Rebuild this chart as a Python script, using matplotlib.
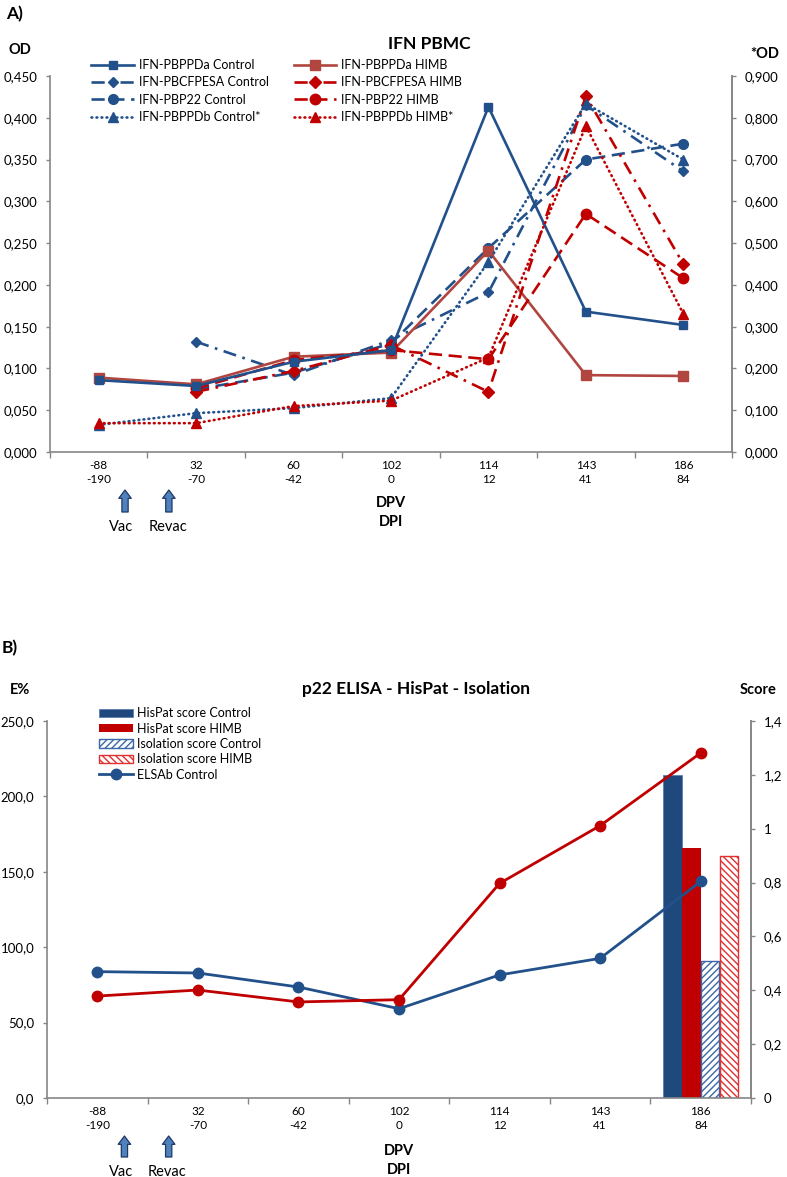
import matplotlib.pyplot as plt
import numpy as np
from matplotlib.ticker import FuncFormatter, FixedLocator

plt.rcParams['font.family'] = ['Lato', 'DejaVu Sans']
plt.rcParams['hatch.linewidth'] = 1.0

W, H = 787, 1177
nan = np.nan

# x categories: days post vaccination / days post infection
dpv = ['-88', '32', '60', '102', '114', '143', '186']
dpi_days = ['-190', '-70', '-42', '0', '12', '41', '84']

# A) IFN PBMC, OD (left axis)
ppda_ctrl = [0.086, 0.079, 0.108, 0.122, 0.413, 0.168, 0.152]
ppda_himb = [0.089, 0.081, 0.114, 0.119, 0.241, 0.092, 0.091]
cfpesa_ctrl = [nan, 0.132, 0.092, 0.134, 0.191, 0.415, 0.336]
cfpesa_himb = [nan, 0.072, 0.097, 0.128, 0.072, 0.426, 0.225]
p22_ctrl = [nan, 0.075, 0.095, 0.130, 0.244, 0.350, 0.369]
p22_himb = [nan, 0.076, 0.110, 0.122, 0.111, 0.285, 0.208]
# *OD (right axis)
ppdb_ctrl = [0.065, 0.093, 0.105, 0.129, 0.455, 0.834, 0.700]
ppdb_himb = [0.069, 0.069, 0.110, 0.123, 0.226, 0.780, 0.331]

# B) p22 ELISA (E%, left axis)
elisa_ctrl = [83.8, 82.9, 73.6, 59.2, 81.6, 92.6, 143.6]
elisa_himb = [67.6, 71.6, 63.7, 65.2, 142.3, 180.6, 228.8]
# scores (right axis), only at the last sampling
hispat_ctrl = [nan, nan, nan, nan, nan, nan, 1.20]
hispat_himb = [nan, nan, nan, nan, nan, nan, 0.93]
iso_ctrl = [nan, nan, nan, nan, nan, nan, 0.51]
iso_himb = [nan, nan, nan, nan, nan, nan, 0.90]

BLUE = '#22508a'
RED = '#c00000'
BROWN = '#b0463f'
GREY = '#868686'


def px_rect(l, t, r, b):
    return [l / W, 1 - b / H, (r - l) / W, (b - t) / H]


def ftext(x, y, s, **kw):
    fig.text(x / W, 1 - y / H, s, va='center', ha='center', **kw)


def comma(fmt):
    return FuncFormatter(lambda v, p: fmt(v).replace('.', ','))


def style_axes(ax, ax2):
    x = np.arange(len(dpv))
    ax.set_xlim(-0.5, len(dpv) - 0.5)
    ax.set_xticks(x)
    ax.set_xticklabels([a + '\n' + b for a, b in zip(dpv, dpi_days)], fontsize=8.5, linespacing=1.3)
    ax.xaxis.set_minor_locator(FixedLocator(np.arange(-0.5, len(dpv), 1)))
    ax.tick_params(axis='x', which='major', length=0, pad=6)
    ax.tick_params(axis='x', which='minor', length=4, width=1, color=GREY, direction='out')
    for a in (ax, ax2):
        a.spines['top'].set_visible(False)
        for s in ('left', 'right', 'bottom'):
            a.spines[s].set_color(GREY)
            a.spines[s].set_linewidth(1.2)
        a.tick_params(axis='y', length=3, width=1, color=GREY, direction='out', pad=6, labelsize=9.5)
    ax2.spines['left'].set_visible(False)
    ax2.spines['bottom'].set_visible(False)


def arrow(ax, x, top, bottom, ax_h):
    tr = ax.get_xaxis_transform()
    ax.annotate('', xy=(x, -top / ax_h), xytext=(x, -bottom / ax_h), xycoords=tr, textcoords=tr,
                arrowprops=dict(arrowstyle='simple,head_length=0.6,head_width=0.9,tail_width=0.45',
                                mutation_scale=10, fc='#4f81bd', ec='#1f3864', lw=0.9,
                                shrinkA=0, shrinkB=0),
                annotation_clip=False)


def below(ax, x, off, s, ax_h, **kw):
    ax.text(x, -off / ax_h, s, transform=ax.get_xaxis_transform(), ha='center', va='center', **kw)


fig = plt.figure(figsize=(W / 100, H / 100), dpi=100)

# ---------------- A) IFN PBMC ----------------
axA = fig.add_axes(px_rect(50, 76, 732, 452))
axA2 = axA.twinx()
x = np.arange(len(dpv))
lw = 1.9

axA.plot(x, ppda_ctrl, color=BLUE, lw=lw, marker='s', ms=5.5, label='IFN-PBPPDa Control', zorder=4)
axA.plot(x, cfpesa_ctrl, color=BLUE, lw=lw, marker='D', ms=5.5, dashes=(5, 2.5, 1, 2.5),
         label='IFN-PBCFPESA Control', zorder=3)
axA.plot(x, p22_ctrl, color=BLUE, lw=lw, marker='o', ms=7, dashes=(5, 2.5), label='IFN-PBP22 Control', zorder=3)
lA4, = axA2.plot(x, ppdb_ctrl, color=BLUE, lw=lw, marker='^', ms=7, dashes=(0.3, 1.6),
                 dash_capstyle='round', label='IFN-PBPPDb Control*', zorder=3)
axA.plot(x, ppda_himb, color=BROWN, lw=lw, marker='s', ms=6.5, label='IFN-PBPPDa HIMB', zorder=3)
axA.plot(x, cfpesa_himb, color=RED, lw=lw, marker='D', ms=6, dashes=(5, 2.5, 1, 2.5),
         label='IFN-PBCFPESA HIMB', zorder=3)
axA.plot(x, p22_himb, color=RED, lw=lw, marker='o', ms=7.5, dashes=(5, 2.5), label='IFN-PBP22 HIMB', zorder=3)
lA8, = axA2.plot(x, ppdb_himb, color=RED, lw=lw, marker='^', ms=7.5, dashes=(0.3, 1.6),
                 dash_capstyle='round', label='IFN-PBPPDb HIMB*', zorder=3)

axA.set_ylim(0, 0.45)
axA.set_yticks(np.arange(0, 0.451, 0.05))
axA.yaxis.set_major_formatter(comma(lambda v: f'{v:.3f}'))
axA2.set_ylim(0, 0.9)
axA2.set_yticks(np.arange(0, 0.901, 0.1))
axA2.yaxis.set_major_formatter(comma(lambda v: f'{v:.3f}'))
style_axes(axA, axA2)

h, l = axA.get_legend_handles_labels()
hA = [h[0], h[1], h[2], lA4, h[3], h[4], h[5], lA8]
lA = [l[0], l[1], l[2], lA4.get_label(), l[3], l[4], l[5], lA8.get_label()]
fig.legend(hA, lA, ncol=2, loc='upper left', bbox_to_anchor=(85 / W, 1 - 53 / H), frameon=False,
           fontsize=9, borderpad=0, handlelength=3.4, handletextpad=0.4, columnspacing=2.0,
           labelspacing=0.42)

axH = 376
for xa in (0.27, 0.72):
    arrow(axA, xa, 38, 60, axH)
below(axA, 0.23, 75, 'Vac', axH, fontsize=10.5)
below(axA, 0.71, 75, 'Revac', axH, fontsize=10.5)
below(axA, 3, 51, 'DPV', axH, fontsize=10.5, fontweight='bold')
below(axA, 3, 70, 'DPI', axH, fontsize=10.5, fontweight='bold')

ftext(15, 14, 'A)', fontsize=12.5, fontweight='bold')
ftext(20, 50, 'OD', fontsize=10.5, fontweight='bold')
ftext(765, 54, '*OD', fontsize=10.5, fontweight='bold')
ftext(429, 44, 'IFN PBMC', fontsize=12.5, fontweight='bold')

# ---------------- B) p22 ELISA - HisPat - Isolation ----------------
axB = fig.add_axes(px_rect(47, 721, 751, 1098))
axB2 = axB.twinx()
bw = 0.185
axB2.bar(x - 0.28, hispat_ctrl, bw, color='#1f497d', edgecolor='#5a7fb0', lw=0.6, label='HisPat score Control')
axB2.bar(x - 0.093, hispat_himb, bw, color=RED, lw=0, label='HisPat score HIMB')
axB2.bar(x + 0.093, iso_ctrl, bw, color='white', edgecolor='#3a67a8', hatch='/////', lw=1,
         label='Isolation score Control')
axB2.bar(x + 0.28, iso_himb, bw, color='white', edgecolor='#e03030', hatch='\\\\\\\\\\', lw=1,
         label='Isolation score HIMB')
axB2.set_zorder(1)
axB.set_zorder(2)
axB.patch.set_visible(False)
lB1, = axB.plot(x, elisa_ctrl, color=BLUE, lw=2, marker='o', ms=7.5, label='ELSAb Control')
axB.plot(x, elisa_himb, color=RED, lw=2, marker='o', ms=7.5)

axB.set_ylim(0, 250)
axB.set_yticks(np.arange(0, 251, 50))
axB.yaxis.set_major_formatter(comma(lambda v: f'{v:.1f}'))
axB2.set_ylim(0, 1.4)
axB2.set_yticks(np.arange(0, 1.41, 0.2))
axB2.yaxis.set_major_formatter(comma(lambda v: f'{round(v, 1):g}'))
style_axes(axB, axB2)

hb, lb = axB2.get_legend_handles_labels()
fig.legend(hb + [lB1], lb + ['ELSAb Control'], loc='upper left', bbox_to_anchor=(93 / W, 1 - 701 / H),
           frameon=False, fontsize=9, borderpad=0, handlelength=2.7, handleheight=0.65,
           handletextpad=0.3, labelspacing=0.27)

axH = 377
for xa in (0.27, 0.71):
    arrow(axB, xa, 38, 59, axH)
below(axB, 0.24, 74, 'Vac', axH, fontsize=10.5)
below(axB, 0.69, 74, 'Revac', axH, fontsize=10.5)
below(axB, 3, 53, 'DPV', axH, fontsize=10.5, fontweight='bold')
below(axB, 3, 72, 'DPI', axH, fontsize=10.5, fontweight='bold')

ftext(10, 648, 'B)', fontsize=12.5, fontweight='bold')
ftext(20, 690, 'E%', fontsize=10.5, fontweight='bold')
ftext(758, 690, 'Score', fontsize=10.5, fontweight='bold')
ftext(416, 689, 'p22 ELISA - HisPat - Isolation', fontsize=12.5, fontweight='bold')

fig.savefig('out.png', dpi=100)
